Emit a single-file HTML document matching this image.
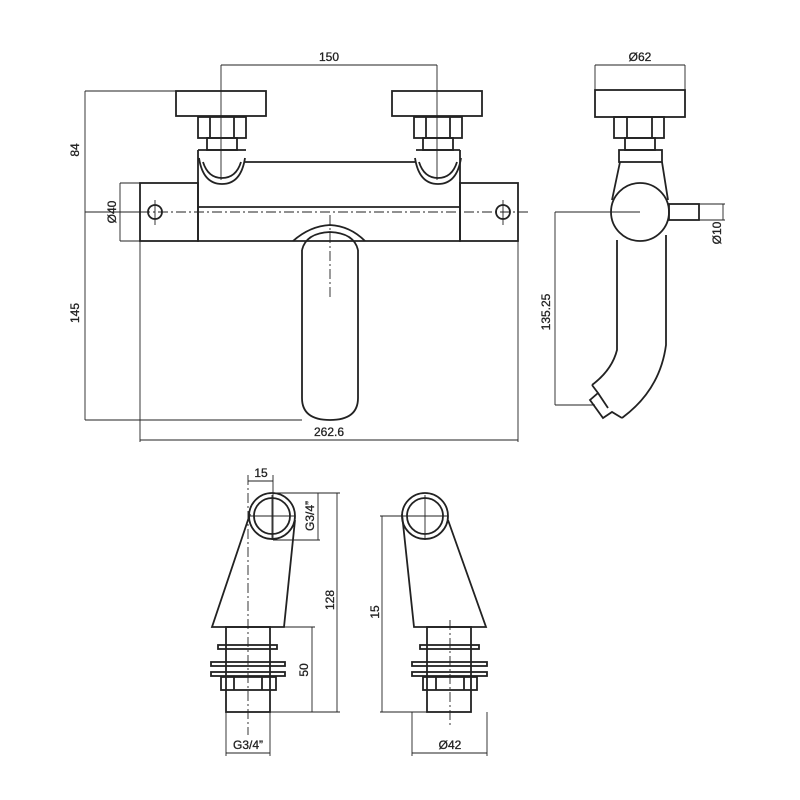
<!DOCTYPE html>
<html><head><meta charset="utf-8"><style>html,body{margin:0;padding:0;background:#fff}svg{display:block}text{font-family:"Liberation Sans",sans-serif;font-size:12px;fill:#222;stroke:#222;stroke-width:0.3}</style></head>
<body>
<svg width="800" height="800" viewBox="0 0 800 800" xmlns="http://www.w3.org/2000/svg">
<g fill="none" stroke="#222" stroke-width="0.9">
<line x1="221" y1="65" x2="437" y2="65"/>
<line x1="221" y1="65" x2="221" y2="180"/><line x1="437" y1="65" x2="437" y2="180"/>
<line x1="85" y1="91" x2="85" y2="420"/><line x1="85" y1="91" x2="176" y2="91"/>
<line x1="85" y1="212" x2="140" y2="212"/>
<line x1="85" y1="420" x2="302" y2="420"/>
<line x1="120" y1="183" x2="120" y2="241"/><line x1="120" y1="183" x2="140" y2="183"/><line x1="120" y1="241" x2="140" y2="241"/>
<line x1="140" y1="440" x2="518" y2="440"/>
<line x1="140" y1="241" x2="140" y2="442"/><line x1="518" y1="241" x2="518" y2="442"/>
<line x1="140" y1="212" x2="530" y2="212" stroke-dasharray="10 3 2 3"/>
<line x1="330" y1="215" x2="330" y2="300" stroke-dasharray="10 3 2 3"/>
<line x1="155" y1="200" x2="155" y2="225"/><line x1="503" y1="200" x2="503" y2="225"/>
<line x1="595" y1="65" x2="685" y2="65"/><line x1="595" y1="65" x2="595" y2="90"/><line x1="685" y1="65" x2="685" y2="90"/>
<line x1="555" y1="212" x2="555" y2="405"/><line x1="555" y1="212" x2="640" y2="212"/><line x1="555" y1="405" x2="595" y2="405"/>
<line x1="723" y1="204" x2="723" y2="220"/><line x1="697" y1="204" x2="725" y2="204"/><line x1="697" y1="220" x2="725" y2="220"/>
<line x1="248" y1="481" x2="273" y2="481"/><line x1="248" y1="475" x2="248" y2="735" stroke-dasharray="10 3 2 3"/><line x1="273" y1="475" x2="273" y2="540"/>
<line x1="318" y1="493" x2="318" y2="540"/><line x1="273" y1="493" x2="340" y2="493"/><line x1="273" y1="540" x2="320" y2="540"/>
<line x1="337" y1="493" x2="337" y2="712"/><line x1="270" y1="712" x2="340" y2="712"/>
<line x1="312" y1="627" x2="312" y2="712"/><line x1="284" y1="627" x2="315" y2="627"/>
<line x1="226" y1="753" x2="270" y2="753"/><line x1="226" y1="712" x2="226" y2="756"/><line x1="270" y1="712" x2="270" y2="756"/>
<line x1="382" y1="516" x2="382" y2="712"/><line x1="380" y1="516" x2="425" y2="516"/><line x1="380" y1="712" x2="430" y2="712"/>
<line x1="412" y1="753" x2="487" y2="753"/><line x1="412" y1="712" x2="412" y2="756"/><line x1="487" y1="712" x2="487" y2="756"/>
<line x1="450" y1="620" x2="450" y2="725" stroke-dasharray="10 3 2 3"/>
<line x1="425" y1="495" x2="425" y2="540"/><line x1="402" y1="516" x2="448" y2="516"/>
<line x1="272" y1="495" x2="272" y2="540"/><line x1="250" y1="516" x2="295" y2="516"/>
</g>
<g fill="none" stroke="#222" stroke-width="1.8">
<rect x="176" y="91" width="90" height="25"/><rect x="392" y="91" width="90" height="25"/>
<rect x="198" y="117" width="48" height="21"/><line x1="210" y1="117" x2="210" y2="138"/><line x1="234" y1="117" x2="234" y2="138"/>
<rect x="414" y="117" width="48" height="21"/><line x1="426" y1="117" x2="426" y2="138"/><line x1="450" y1="117" x2="450" y2="138"/>
<rect x="207" y="138" width="30" height="12"/><rect x="423" y="138" width="30" height="12"/>
<path d="M198 150 L246 150 M416 150 L460 150"/>
<path d="M199 158 Q203 184 222 184 Q241 184 245 158"/>
<path d="M203 162 Q208 178 222 178 Q236 178 241 162"/>
<path d="M415 158 Q419 184 438 184 Q457 184 461 158"/>
<path d="M419 162 Q424 178 438 178 Q452 178 457 162"/>
<path d="M198 150 L198 241 L460 241 L460 150"/>
<line x1="244" y1="162" x2="416" y2="162"/>
<line x1="198" y1="207" x2="460" y2="207"/>
<rect x="140" y="183" width="58" height="58"/><rect x="460" y="183" width="58" height="58"/>
<circle cx="155" cy="212" r="7"/><circle cx="503" cy="212" r="7"/>
<path d="M293 241 Q310 226 330 225 Q350 226 365 241"/>
<path d="M302 250 Q306 233 330 232 Q354 233 358 250"/>
<path d="M302 250 L302 398 Q302 420 330 420 Q358 420 358 398 L358 250"/>
<rect x="595" y="90" width="90" height="27"/>
<rect x="614" y="117" width="50" height="21"/><line x1="627" y1="117" x2="627" y2="138"/><line x1="652" y1="117" x2="652" y2="138"/>
<rect x="625" y="138" width="30" height="12"/>
<rect x="619" y="150" width="43" height="12"/>
<path d="M620 162 L612 200 M662 162 L668 200"/>
<circle cx="640" cy="212" r="29"/>
<rect x="669" y="204" width="30" height="16"/>
<path d="M617 240 L617 350 Q612 370 592 385 M666 235 L666 345 Q660 390 622 418"/>
<path d="M592 385 L598 393 L590 400 L603 418 L612 412 L622 418"/>
<path d="M598 393 L608 408"/>
<circle cx="272" cy="516" r="23"/><circle cx="272" cy="516" r="18"/>
<path d="M250 514 L212 627 L284 627 L295 520"/>
<rect x="226" y="627" width="44" height="85"/>
<rect x="218" y="645" width="59" height="4"/><rect x="211" y="662" width="74" height="4"/><rect x="211" y="672" width="74" height="4"/>
<rect x="221" y="677" width="55" height="13"/><line x1="234" y1="677" x2="234" y2="690"/><line x1="262" y1="677" x2="262" y2="690"/>
<circle cx="425" cy="516" r="23"/><circle cx="425" cy="516" r="18"/>
<path d="M402 514 L414 627 L486 627 L448 520"/>
<rect x="427" y="627" width="44" height="85"/>
<rect x="420" y="645" width="59" height="4"/><rect x="412" y="662" width="75" height="4"/><rect x="412" y="672" width="75" height="4"/>
<rect x="423" y="677" width="54" height="13"/><line x1="436" y1="677" x2="436" y2="690"/><line x1="464" y1="677" x2="464" y2="690"/>
</g>
<text x="329" y="61" text-anchor="middle">150</text>
<text x="329" y="436" text-anchor="middle">262.6</text>
<text x="640" y="61" text-anchor="middle">Ø62</text>
<text x="261" y="477" text-anchor="middle">15</text>
<text x="248" y="749" text-anchor="middle">G3/4”</text>
<text x="450" y="749" text-anchor="middle">Ø42</text>
<text transform="translate(79,150) rotate(-90)" text-anchor="middle">84</text>
<text transform="translate(79,313) rotate(-90)" text-anchor="middle">145</text>
<text transform="translate(116,212) rotate(-90)" text-anchor="middle">Ø40</text>
<text transform="translate(550,312) rotate(-90)" text-anchor="middle">135.25</text>
<text transform="translate(721,233) rotate(-90)" text-anchor="middle">Ø10</text>
<text transform="translate(314,516) rotate(-90)" text-anchor="middle">G3/4”</text>
<text transform="translate(334,600) rotate(-90)" text-anchor="middle">128</text>
<text transform="translate(308,670) rotate(-90)" text-anchor="middle">50</text>
<text transform="translate(379,612) rotate(-90)" text-anchor="middle">15</text>
</svg>
</body></html>
